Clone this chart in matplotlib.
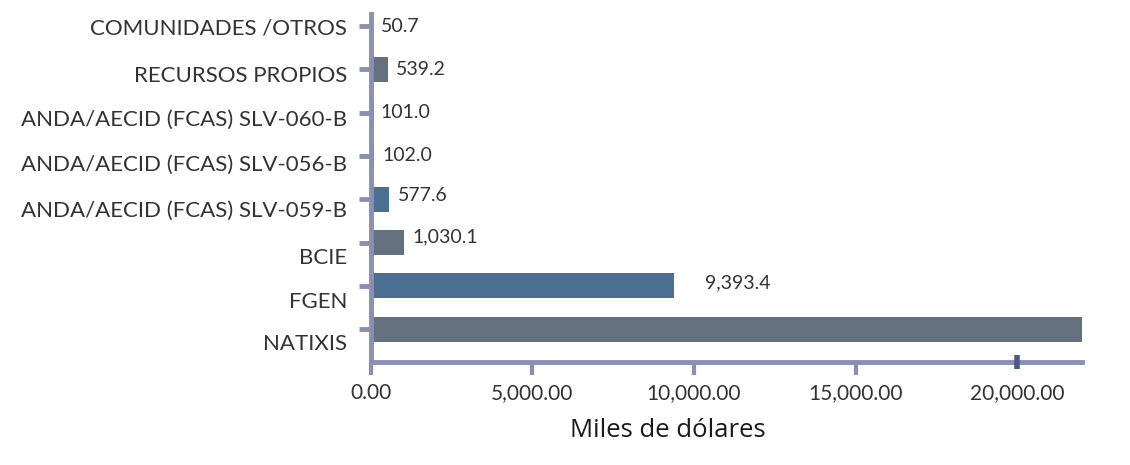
import matplotlib
matplotlib.use("Agg")
import matplotlib.pyplot as plt
import matplotlib.transforms as mtransforms
from matplotlib.ticker import FuncFormatter

# data
categorias = ["COMUNIDADES /OTROS", "RECURSOS PROPIOS", "ANDA/AECID (FCAS) SLV-060-B",
              "ANDA/AECID (FCAS) SLV-056-B", "ANDA/AECID (FCAS) SLV-059-B",
              "BCIE", "FGEN", "NATIXIS"]
montos = [50.7, 539.2, 101.0, 102.0, 577.6, 1030.1, 9393.4, 22000.0]
etiquetas = ["50.7", "539.2", "101.0", "102.0", "577.6", "1,030.1", "9,393.4", ""]
xticks = [0, 5000, 10000, 15000, 20000]

AZUL = "#4b6f90"
GRIS = "#63727e"
LAVANDA = "#8890b3"
TEXTO = "#333333"
colores = [AZUL, GRIS] * 4

plt.rcParams["font.family"] = ["Lato", "DejaVu Sans"]

fig = plt.figure(figsize=(11.3, 4.65), dpi=100)
ax = fig.add_axes([0.328, 0.2215, 0.6295, 0.7485])

pos = list(range(len(categorias)))
ax.barh(pos, montos, height=0.58, color=colores, zorder=2)

# value labels, offset in points right of bar end
desp_x = [6, 6, 5, 6, 6, 6, 22, 0]
desp_y = [0, 0, 0, 0, 3, 4, 2, 0]
for i, (v, t) in enumerate(zip(montos, etiquetas)):
    if t:
        ax.annotate(t, (v, i), xytext=(desp_x[i], desp_y[i]), textcoords="offset points",
                    va="center", ha="left", fontsize=14, color=TEXTO)

ax.set_ylim(7.76, -0.28)
ax.set_xlim(0, montos[-1])
ax.set_yticks(pos)
ax.set_yticklabels(categorias, fontsize=16, color=TEXTO)
ax.set_xticks(xticks)
ax.xaxis.set_major_formatter(FuncFormatter(lambda v, p: f"{v:,.2f}"))
ax.tick_params(axis="x", labelsize=15, labelcolor=TEXTO, length=9, width=3,
               color=LAVANDA, pad=6)
ax.tick_params(axis="y", length=9, width=3.5, color=LAVANDA, pad=8)

# last x tick is a short dark mark across the axis
t20 = ax.xaxis.get_major_ticks()[-1]
t20.tick1line.set_visible(False)
ax.plot([xticks[-1]], [0], transform=ax.get_xaxis_transform(), marker="|",
        markersize=10, markeredgewidth=4, color="#4a5a8c", zorder=5, clip_on=False)

# shift the lower category labels down a bit
bajar = [0, 5, 5, 7, 10, 13, 14, 13]
for lab, d in zip(ax.get_yticklabels(), bajar):
    lab.set_transform(lab.get_transform() + mtransforms.ScaledTranslation(0, -d / 100, fig.dpi_scale_trans))

for s in ["top", "right"]:
    ax.spines[s].set_visible(False)
for s in ["left", "bottom"]:
    ax.spines[s].set_color(LAVANDA)
    ax.spines[s].set_linewidth(3.5)
    ax.spines[s].set_zorder(3)

fig.text(668 / 1130, 1 - 430 / 465, "Miles de dólares", ha="center", va="center",
         fontsize=18.5, color="#1a1a1a", family=["Open Sans", "DejaVu Sans"])

fig.savefig("out.png", dpi=100, facecolor="white")
